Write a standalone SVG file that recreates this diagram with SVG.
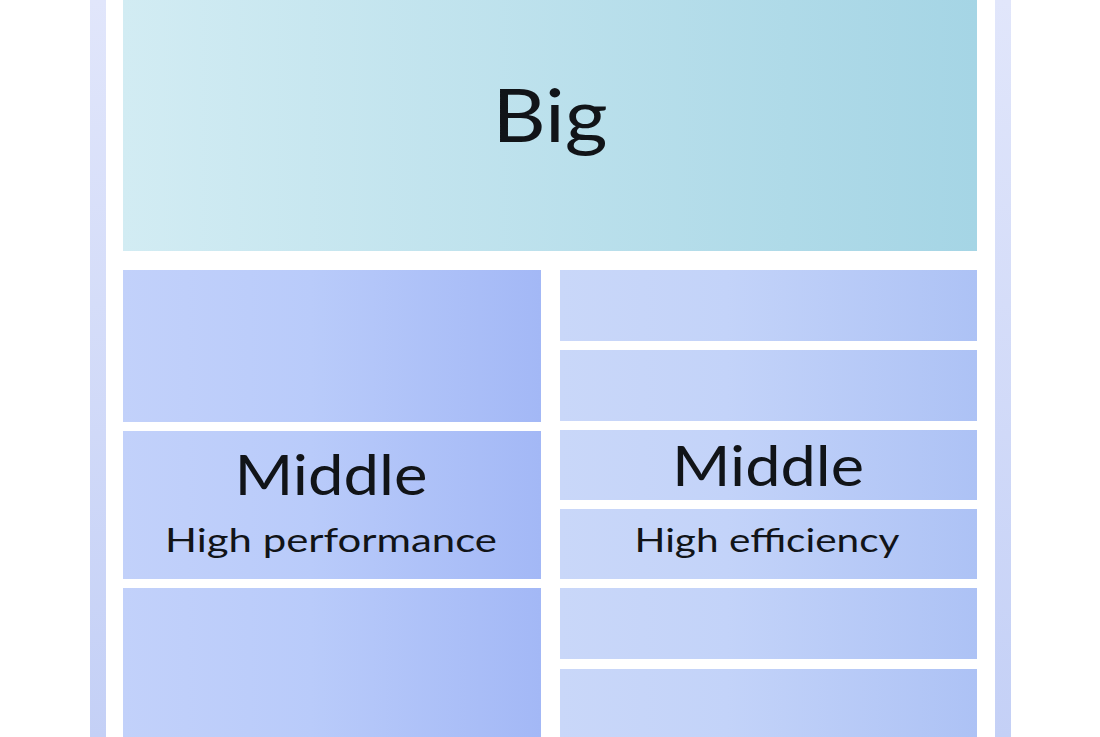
<svg xmlns="http://www.w3.org/2000/svg" width="1100" height="737" viewBox="0 0 1100 737">
<defs>
<linearGradient id="gBig" x1="0" y1="0" x2="1" y2="0">
<stop offset="0" stop-color="#d2ecf3"/><stop offset="1" stop-color="#a5d5e5"/>
</linearGradient>
<linearGradient id="gL" x1="0" y1="0" x2="1" y2="0">
<stop offset="0" stop-color="#c2d1fa"/><stop offset="0.45" stop-color="#b9cbfa"/><stop offset="1" stop-color="#a3b8f6"/>
</linearGradient>
<linearGradient id="gR" x1="0" y1="0" x2="1" y2="0">
<stop offset="0" stop-color="#c9d7f9"/><stop offset="0.4" stop-color="#c3d3f9"/><stop offset="1" stop-color="#adc2f5"/>
</linearGradient>
<linearGradient id="gF" x1="0" y1="0" x2="0" y2="1">
<stop offset="0" stop-color="#e1e6fb"/><stop offset="1" stop-color="#c4d0f6"/>
</linearGradient>
</defs>
<style>
.t{font-family:"Lato","Liberation Sans",sans-serif;fill:#111418;text-anchor:middle}
</style>
<rect width="1100" height="737" fill="#ffffff"/>
<g id="frame">
<rect x="90" y="0" width="16" height="737" fill="url(#gF)"/>
<rect x="995" y="0" width="16" height="737" fill="url(#gF)"/>
</g>
<g id="big">
<rect x="123" y="0" width="854" height="251" fill="url(#gBig)"/>
<text class="t" x="550" y="142" font-size="74" textLength="115" lengthAdjust="spacingAndGlyphs">Big</text>
</g>
<g id="middle-hp">
<rect x="123" y="270" width="418" height="152" fill="url(#gL)"/>
<rect x="123" y="431" width="418" height="148" fill="url(#gL)"/>
<rect x="123" y="588" width="418" height="149" fill="url(#gL)"/>
<text class="t" x="331" y="495" font-size="57" textLength="193" lengthAdjust="spacingAndGlyphs">Middle</text>
<text class="t" x="331" y="552" font-size="33" textLength="332" lengthAdjust="spacingAndGlyphs">High performance</text>
</g>
<g id="middle-he">
<rect x="560" y="270" width="417" height="71" fill="url(#gR)"/>
<rect x="560" y="350" width="417" height="71" fill="url(#gR)"/>
<rect x="560" y="430" width="417" height="70" fill="url(#gR)"/>
<rect x="560" y="509" width="417" height="70" fill="url(#gR)"/>
<rect x="560" y="588" width="417" height="71" fill="url(#gR)"/>
<rect x="560" y="669" width="417" height="68" fill="url(#gR)"/>
<text class="t" x="768" y="486" font-size="57" textLength="192" lengthAdjust="spacingAndGlyphs">Middle</text>
<text class="t" x="767" y="552" font-size="33" textLength="265" lengthAdjust="spacingAndGlyphs">High efficiency</text>
</g>
<g id="connectors"/>
</svg>
